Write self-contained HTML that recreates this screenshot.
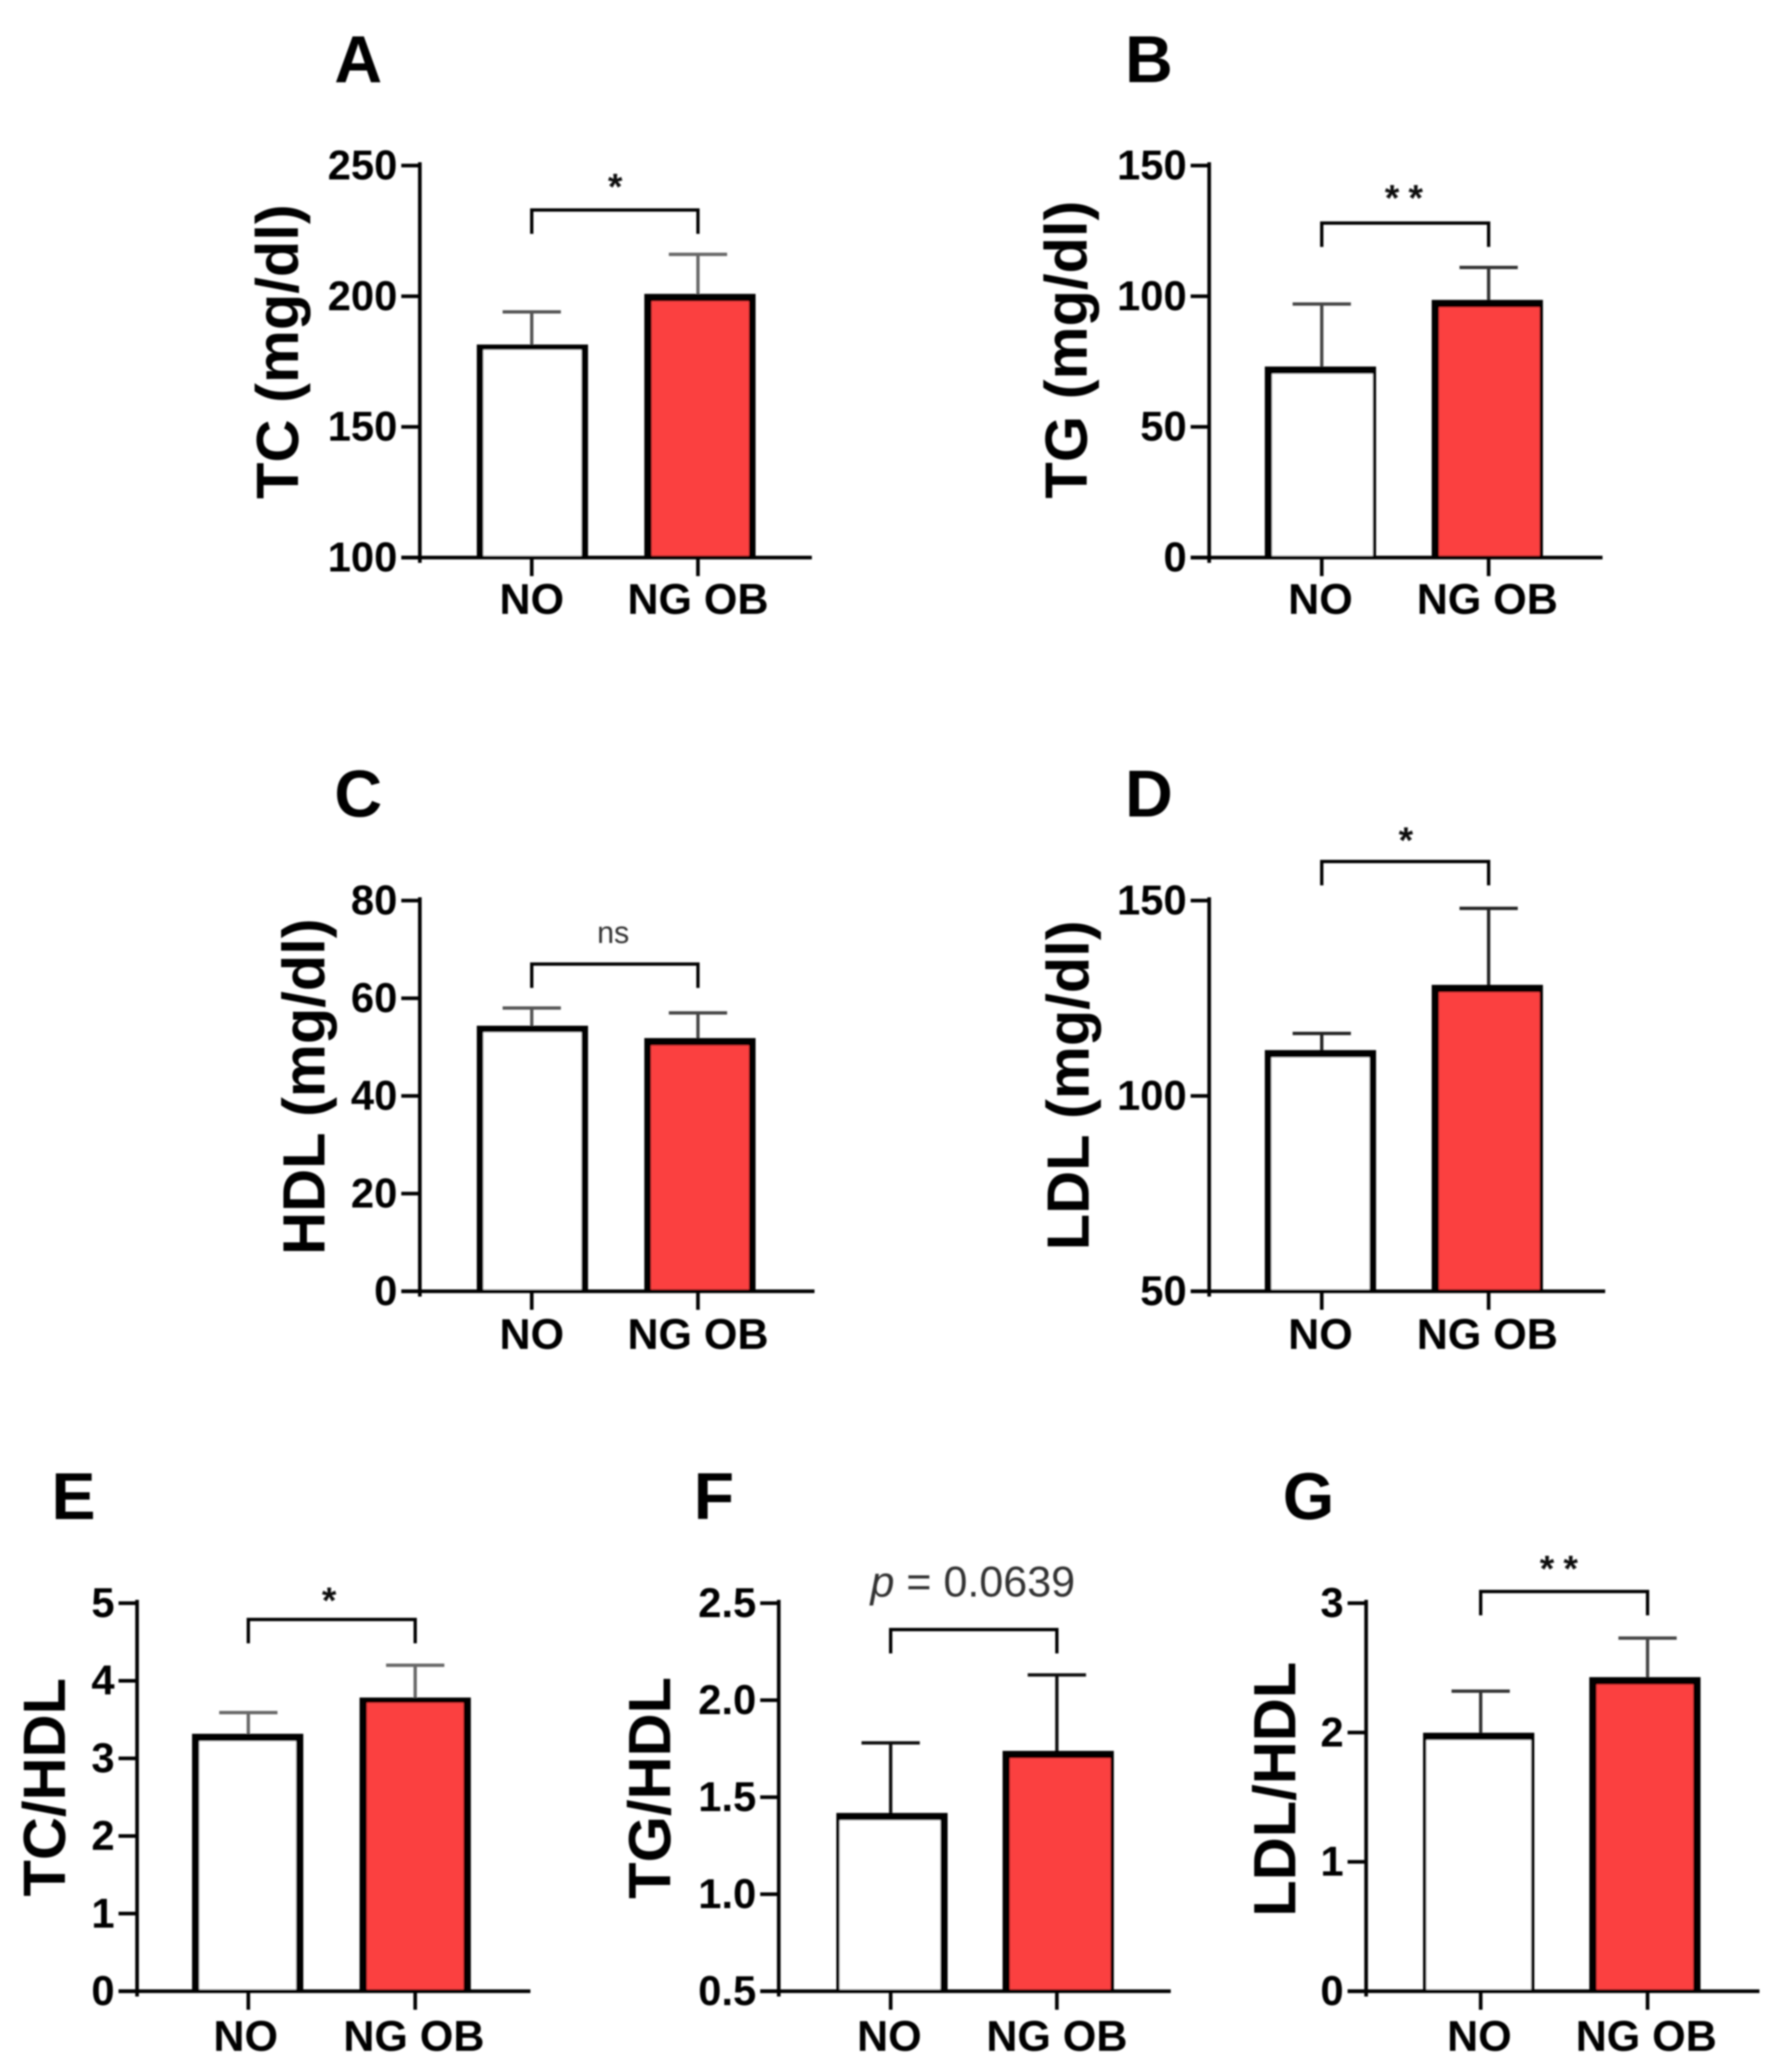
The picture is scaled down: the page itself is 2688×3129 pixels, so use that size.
<!DOCTYPE html>
<html lang="en">
<head>
<meta charset="utf-8">
<title>Lipid profile bar charts</title>
<style>
html,body{margin:0;padding:0;background:#fff;}
svg{display:block;font-family:"Liberation Sans",Arial,sans-serif;}
</style>
</head>
<body>
<svg id="figure" xmlns="http://www.w3.org/2000/svg" width="2688" height="3129" viewBox="0 0 2688 3129"></svg>
<script>
// ---- chart data ----
const panelLetters = ['A','B','C','D','E','F','G'];
const yTitles = ['TC (mg/dl)','TG (mg/dl)','HDL (mg/dl)','LDL (mg/dl)','TC/HDL','TG/HDL','LDL/HDL'];
const categories = ['NO','NG OB'];
const yTickValues = [
  [100,150,200,250],
  [0,50,100,150],
  [0,20,40,60,80],
  [50,100,150],
  [0,1,2,3,4,5],
  [0.5,1.0,1.5,2.0,2.5],
  [0,1,2,3]
];
const yTickLabels = [
  ['100','150','200','250'],
  ['0','50','100','150'],
  ['0','20','40','60','80'],
  ['50','100','150'],
  ['0','1','2','3','4','5'],
  ['0.5','1.0','1.5','2.0','2.5'],
  ['0','1','2','3']
];
const noMeans = [180.5,71.7,53.7,110.8,3.27,1.40,1.97];
const obMeans = [199.5,97.2,51.1,127.5,3.75,1.72,2.40];
const noErrorTops = [194,97,58,116,3.59,1.78,2.32];
const obErrorTops = [216,111,57,148,4.2,2.13,2.73];
const bracketLevels = [233,128,67,160,4.79,2.364,3.09];
const sigLabels = ['*','**','ns','*','*','p = 0.0639','**'];

// ---- layout (pixels, not data) ----
const frames = [
  {ax:634, top:250, bottom:842, start:606, end:1226, c0:803, c1:1054},
  {ax:1826,top:250, bottom:842, start:1798,end:2420, c0:1996,c1:2248},
  {ax:634, top:1360,bottom:1950,start:606, end:1230, c0:803, c1:1054},
  {ax:1826,top:1360,bottom:1950,start:1798,end:2424, c0:1996,c1:2248},
  {ax:207, top:2421,bottom:3007,start:179, end:801,  c0:375, c1:627},
  {ax:1176,top:2421,bottom:3007,start:1148,end:1768, c0:1345,c1:1596},
  {ax:2063,top:2421,bottom:3007,start:2035,end:2657, c0:2236,c1:2488}
];
const barOffsets = [[1,3],[-2,-2],[1,3],[-2,-2],[-1,0],[2,2],[-3,-4]];
const xLabelOffsets = [85,85,87,87,90,90,90];
const xLabelShifts = [[0,0],[-2,-2],[0,0],[-2,-2],[-4,-2],[-2,0],[-2,-2]];
const letterPos = [[541,124],[1735,124],[541,1233],[1735,1233],[111,2294],[1078,2294],[1976,2294]];
const titlePos = [[450,531],[1641,528],[490,1641],[1644,1639],[98,2699],[1012,2700],[1956,2702]];
const sigY = [[929,301],[2127,318],[926,1424],[2123,1288],[497,2436],[1469,2411],[2361,2388]];
const noSides = [[10,8,10],[11,11,5],[10,10,10],[10,11,10],[11,11,11],[5,11,11],[5,11,5]];
const obSides = [[11,11,10],[11,11,5],[10,11,10],[11,11,5],[11,8,11],[11,11,5],[11,11,11]];
const noErrColor = ['#555','#444','#555','#222','#666','#111','#333'];
const obErrColor = ['#666','#333','#444','#222','#666','#111','#444'];
const NS = 'http://www.w3.org/2000/svg';
const root = document.getElementById('figure');

function el(tag, attrs, parent, text){
  const e = document.createElementNS(NS, tag);
  for (const k in attrs) e.setAttribute(k, attrs[k]);
  if (text !== undefined) e.textContent = text;
  parent.appendChild(e);
  return e;
}
function yScale(i, v){
  const f = frames[i], t = yTickValues[i];
  const lo = t[0], hi = t[t.length-1];
  return f.bottom - (v - lo) / (hi - lo) * (f.bottom - f.top);
}
function xScale(i, c){
  return c === 0 ? frames[i].c0 : frames[i].c1;
}
function drawBar(i, c, g){
  const cx = xScale(i, c);
  const bx = cx + barOffsets[i][c];
  const hw = 84;
  const mean = c === 0 ? noMeans[i] : obMeans[i];
  const errTop = c === 0 ? noErrorTops[i] : obErrorTops[i];
  const s = c === 0 ? noSides[i] : obSides[i];
  const col = c === 0 ? noErrColor[i] : obErrColor[i];
  const yv = yScale(i, mean), ye = yScale(i, errTop), yb = frames[i].bottom;

  const stem = el('line', {x1:cx,x2:cx,y1:yv,y2:ye,stroke:col,'stroke-width':5}, g);
  
  
  const cap = el('line', {x1:cx-44,x2:cx+44,y1:ye,y2:ye,stroke:col,'stroke-width':5}, g);
  
  

  const outer = el('rect', {x:bx-hw,y:yv-s[1]/2,width:hw*2,height:yb-yv+s[1]/2,fill:'#000'}, g);
  
  
  const inner = el('rect', {x:bx-hw+s[0],y:yv+s[1]/2,width:hw*2-s[0]-s[2],height:Math.max(0,yb-yv-s[1]/2),fill:c === 0 ? '#fff' : '#fb4141'}, g);
  
  
}
function drawPanel(i){
  const f = frames[i];
  const g = el('g', {filter:'url(#soft)'}, root);
  
  

  const letter = el('text', {x:letterPos[i][0],y:letterPos[i][1],'text-anchor':'middle','font-size':100,'font-weight':'bold',fill:'#000'}, g, panelLetters[i]);
  
  

  const title = el('text', {transform:'translate(' + titlePos[i][0] + ',' + titlePos[i][1] + ') rotate(-90)','text-anchor':'middle','font-size':90,'font-weight':'bold',fill:'#000'}, g, yTitles[i]);
  
  

  drawBar(i, 0, g);
  drawBar(i, 1, g);

  const yAxis = el('line', {x1:f.ax,x2:f.ax,y1:f.top-5,y2:f.bottom+8,stroke:'#000','stroke-width':5.5}, g);
  
  
  const xAxis = el('line', {x1:f.start,x2:f.end,y1:f.bottom,y2:f.bottom,stroke:'#000','stroke-width':5.5}, g);
  
  

  yTickValues[i].forEach(function(v, k){
    const y = yScale(i, v);
    const tick = el('line', {x1:f.start,x2:f.ax,y1:y,y2:y,stroke:'#000','stroke-width':5.5}, g);
    
    
    const lab = el('text', {x:f.ax-34,y:y+21,'text-anchor':'end','font-size':63,'font-weight':'bold',fill:'#000'}, g, yTickLabels[i][k]);
    
    
  });
  categories.forEach(function(name, c){
    const x = xScale(i, c);
    const tick = el('line', {x1:x,x2:x,y1:f.bottom,y2:f.bottom+28,stroke:'#000','stroke-width':5.5}, g);
    
    
    const lab = el('text', {x:x+xLabelShifts[i][c],y:f.bottom+xLabelOffsets[i],'text-anchor':'middle','font-size':65,'font-weight':'bold',fill:'#000'}, g, name);
    
    
  });

  const by = yScale(i, bracketLevels[i]);
  const bracket = el('path', {d:'M' + xScale(i,0) + ' ' + (by+36) + 'V' + by + 'H' + xScale(i,1) + 'V' + (by+36),fill:'none',stroke:'#000','stroke-width':5}, g);
  
  

  const label = sigLabels[i];
  if (label.charAt(0) === 'p') {
    const sig = el('text', {x:sigY[i][0],y:sigY[i][1],'text-anchor':'middle','font-size':65,fill:'#333'}, g);
    
    
    const pGlyph = el('tspan', {'font-style':'italic'}, sig, label.charAt(0));
    
    
    const rest = el('tspan', {}, sig, label.slice(1));
    
    
  } else if (label === 'ns') {
    const sig = el('text', {x:sigY[i][0],y:sigY[i][1],'text-anchor':'middle','font-size':46,fill:'#333'}, g, label);
    
    
  } else {
    const sig = el('text', {x:sigY[i][0],y:sigY[i][1],'text-anchor':'middle','font-size':56,'font-weight':'bold','letter-spacing':label.length > 1 ? 14 : 0,fill:'#111'}, g, label);
    
    
  }
}
const defs = el('defs', {}, root);


const soft = el('filter', {id:'soft',x:'-10%',y:'-10%',width:'120%',height:'120%'}, defs);


const blur = el('feGaussianBlur', {stdDeviation:1.4}, soft);


panelLetters.forEach(function(_, i){ drawPanel(i); });
</script>
</body>
</html>
